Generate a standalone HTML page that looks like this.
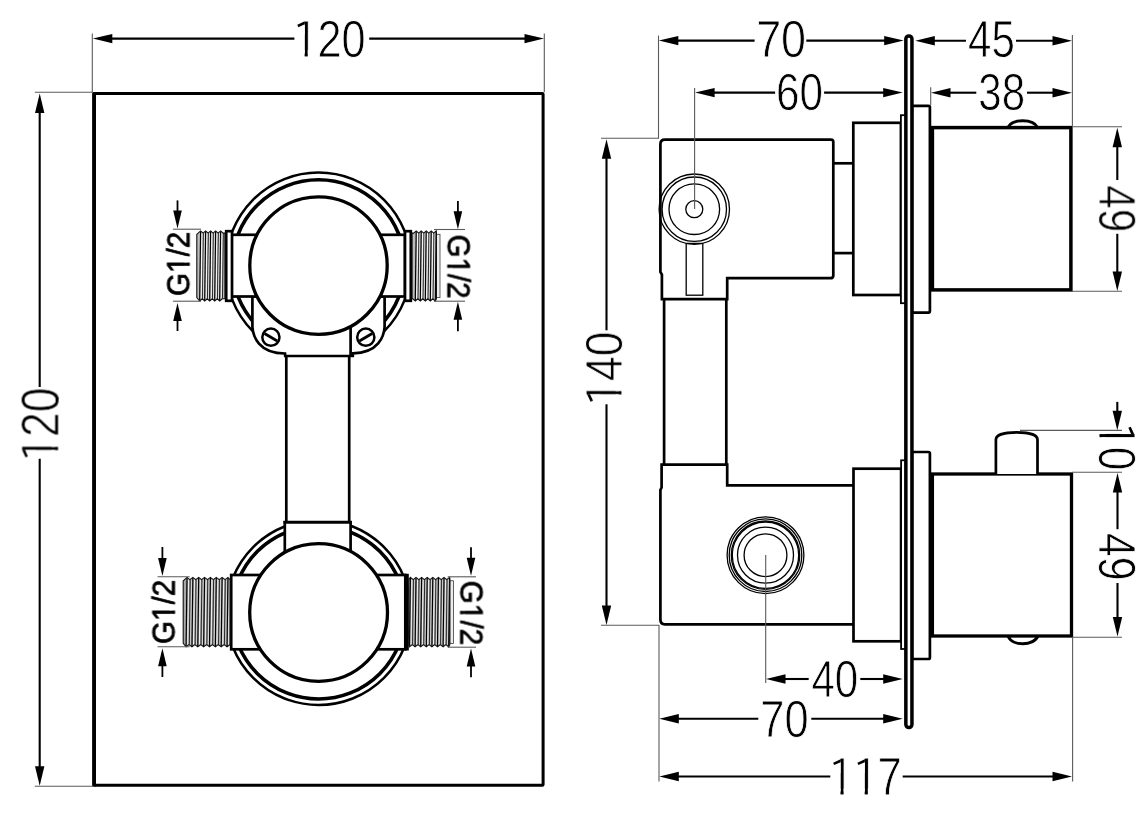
<!DOCTYPE html>
<html><head><meta charset="utf-8"><title>Dimension drawing</title>
<style>
html,body{margin:0;padding:0;background:#fff;}
svg{display:block}
text{font-family:"Liberation Sans",sans-serif;fill:#000;font-kerning:none;font-variant-ligatures:none}
.k{fill:none;stroke:#000;stroke-width:2.7;stroke-linejoin:miter}
.kw{fill:#fff;stroke:#000;stroke-width:2.7;stroke-linejoin:miter}
.k3{fill:none;stroke:#000;stroke-width:3.0}
.k38{fill:none;stroke:#000;stroke-width:3.8}
.m{fill:none;stroke:#000;stroke-width:1.3}
.mw{fill:#fff;stroke:#000;stroke-width:1.3}
.d{fill:none;stroke:#000;stroke-width:2.1}
.e{fill:none;stroke:#5a5a5a;stroke-width:1.1}
.k45{fill:none;stroke:#000;stroke-width:4.4}
.k35w{fill:#fff;stroke:#000;stroke-width:3.5}
.k2w{fill:#fff;stroke:#000;stroke-width:1.8}
.k25{fill:none;stroke:#000;stroke-width:2.5}
.k36{fill:none;stroke:#000;stroke-width:3.6}
.k33w{fill:#fff;stroke:#000;stroke-width:3.3}
.k28{fill:none;stroke:#000;stroke-width:2.8}
.m1{fill:none;stroke:#000;stroke-width:1.1}
.s{fill:none;stroke:#000;stroke-width:1.8}
.k2{fill:none;stroke:#000;stroke-width:2.2}
.k26{fill:none;stroke:#000;stroke-width:2.6}
.k3w{fill:#fff;stroke:#000;stroke-width:3}
.a{fill:#000;stroke:none}
.w{fill:#fff;stroke:none}
</style></head>
<body>
<svg width="1143" height="816" viewBox="0 0 1143 816">
<rect class="w" x="0" y="0" width="1143" height="816"/>
<g style="opacity:.999">
<g transform="translate(293.39 56.71) rotate(0) scale(0.4330 0.5217)">
<text font-size="100" stroke="#fff" stroke-width="1.6">120</text>
<rect class="w" x="6" y="-72" width="19.95" height="30"/>
<path class="a" d="M26.3 -68L9.09 -61.29L11.4 -56.69L26.3 -62.06Z"/>
<rect class="w" x="1" y="-13" width="24.95" height="18"/><rect class="w" x="33.18" y="-13" width="20.5" height="18"/>
</g>
<g transform="translate(58.61 461.62) rotate(-90) scale(0.4436 0.5376)">
<text font-size="100" stroke="#fff" stroke-width="1.6">120</text>
<rect class="w" x="6" y="-72" width="19.95" height="30"/>
<path class="a" d="M26.29 -68L9.49 -61.49L11.75 -57.02L26.29 -62.23Z"/>
<rect class="w" x="1" y="-13" width="24.95" height="18"/><rect class="w" x="33.18" y="-13" width="20.5" height="18"/>
</g>
<g transform="translate(188.91 296.14) rotate(-90) scale(0.2974 0.3151)">
<text font-size="100" stroke="#000" stroke-width="2.4">G1/2</text>
<rect class="w" x="78.78" y="-13" width="22.95" height="18"/><rect class="w" x="112.96" y="-13" width="20.5" height="18"/>
</g>
<g transform="translate(448.09 234.47) rotate(90) scale(0.2960 0.3151)">
<text font-size="100" stroke="#000" stroke-width="2.4">G1/2</text>
<rect class="w" x="78.78" y="-13" width="22.95" height="18"/><rect class="w" x="112.96" y="-13" width="20.5" height="18"/>
</g>
<g transform="translate(174.21 644.14) rotate(-90) scale(0.2974 0.3151)">
<text font-size="100" stroke="#000" stroke-width="2.4">G1/2</text>
<rect class="w" x="78.78" y="-13" width="22.95" height="18"/><rect class="w" x="112.96" y="-13" width="20.5" height="18"/>
</g>
<g transform="translate(460.89 580.56) rotate(90) scale(0.2979 0.3151)">
<text font-size="100" stroke="#000" stroke-width="2.4">G1/2</text>
<rect class="w" x="78.78" y="-13" width="22.95" height="18"/><rect class="w" x="112.96" y="-13" width="20.5" height="18"/>
</g>
<g transform="translate(756.14 57.11) rotate(0) scale(0.4493 0.5231)">
<text font-size="100" stroke="#fff" stroke-width="1.6">70</text>
</g>
<g transform="translate(968 57.41) rotate(0) scale(0.4208 0.5236)">
<text font-size="100" stroke="#fff" stroke-width="1.6">45</text>
</g>
<g transform="translate(776.12 109.91) rotate(0) scale(0.4223 0.5260)">
<text font-size="100" stroke="#fff" stroke-width="1.6">60</text>
</g>
<g transform="translate(978.36 110.41) rotate(0) scale(0.4208 0.5202)">
<text font-size="100" stroke="#fff" stroke-width="1.6">38</text>
</g>
<g transform="translate(1098.79 185.39) rotate(90) scale(0.4220 0.5202)">
<text font-size="100" stroke="#fff" stroke-width="1.6">49</text>
</g>
<g transform="translate(622.41 405.94) rotate(-90) scale(0.4456 0.5202)">
<text font-size="100" stroke="#fff" stroke-width="1.6">140</text>
<rect class="w" x="6" y="-72" width="19.95" height="30"/>
<path class="a" d="M26.29 -68L9.57 -61.27L11.81 -56.66L26.29 -62.04Z"/>
<rect class="w" x="1" y="-13" width="24.95" height="18"/><rect class="w" x="33.18" y="-13" width="20.5" height="18"/>
</g>
<g transform="translate(1098.69 423.09) rotate(90) scale(0.4235 0.5231)">
<text font-size="100" stroke="#fff" stroke-width="1.6">10</text>
<rect class="w" x="6" y="-72" width="19.95" height="30"/>
<path class="a" d="M26.3 -68L8.71 -61.31L11.07 -56.72L26.3 -62.07Z"/>
<rect class="w" x="1" y="-13" width="24.95" height="18"/><rect class="w" x="33.18" y="-13" width="20.5" height="18"/>
</g>
<g transform="translate(1098.79 532.98) rotate(90) scale(0.4279 0.5202)">
<text font-size="100" stroke="#fff" stroke-width="1.6">49</text>
</g>
<g transform="translate(811.4 696.91) rotate(0) scale(0.4215 0.5173)">
<text font-size="100" stroke="#fff" stroke-width="1.6">40</text>
</g>
<g transform="translate(760.33 736.91) rotate(0) scale(0.4344 0.5231)">
<text font-size="100" stroke="#fff" stroke-width="1.6">70</text>
</g>
<g transform="translate(829.16 795.43) rotate(0) scale(0.4356 0.5327)">
<text font-size="100" stroke="#fff" stroke-width="1.6">117</text>
<rect class="w" x="6" y="-72" width="19.95" height="30"/>
<path class="a" d="M26.29 -68L9.19 -61.43L11.49 -56.93L26.29 -62.18Z"/>
<rect class="w" x="1" y="-13" width="24.95" height="18"/><rect class="w" x="33.18" y="-13" width="20.5" height="18"/>
<rect class="w" x="61.62" y="-72" width="19.95" height="30"/>
<path class="a" d="M81.91 -68L64.81 -61.43L67.1 -56.93L81.91 -62.18Z"/>
<rect class="w" x="56.62" y="-13" width="24.95" height="18"/><rect class="w" x="88.8" y="-13" width="20.5" height="18"/>
</g>
</g>
<clipPath id="c1"><rect x="200" y="150" width="240" height="188"/></clipPath>
<ellipse class="k25" cx="318.5" cy="265.6" rx="92.7" ry="93.1" clip-path="url(#c1)"/>
<ellipse class="k36" cx="318.5" cy="265.6" rx="86.3" ry="85.8" clip-path="url(#c1)"/>
<ellipse class="k25" cx="318.6" cy="612.5" rx="92.5" ry="92.5"/>
<ellipse class="k36" cx="318.6" cy="612.5" rx="86.5" ry="86.5"/>
<rect class="w" x="286.3" y="356" width="62.9" height="166"/>
<rect class="w" x="284.8" y="522" width="65.8" height="48"/>
<path class="k" d="M286.3 356L286.3 522"/>
<path class="k" d="M349.2 356L349.2 522"/>
<path class="k" d="M284.8 521L284.8 560"/>
<path class="k" d="M350.6 521L350.6 560"/>
<path class="k3" d="M283.5 522.2L351.9 522.2"/>
<path class="kw" d="M252.4 296.5L252.4 327C253 336 258.4 353.2 285 353.5L285.2 356L352.8 356L353 353.3C378.6 353 384 336 384.6 327L384.6 296.5Z"/>
<path class="k" d="M350.6 326L350.6 356"/>
<rect class="kw" x="231.7" y="234.8" width="173.3" height="61.7"/>
<rect class="kw" x="226.2" y="231.2" width="5.8" height="69.6"/>
<rect class="kw" x="405" y="231.2" width="5.8" height="69.6"/>
<path d="M196.8 234.3L200.6 230.9L203.1 233.1L205.6 230.9L208.1 233.1L210.6 230.9L213.1 233.1L215.6 230.9L218.1 233.1L220.6 230.9L223.1 233.1L224.9 233.1L224.9 298.8L222.2 298.8L219.7 301L217.2 298.8L214.7 301L212.2 298.8L209.7 301L207.2 298.8L204.7 301L202.2 298.8L199.7 301L196.8 297.6Z" fill="#bdbdbd" stroke="none"/>
<path d="M201.95 233.1L201.05 298.8" stroke="#f6f6f6" stroke-width="1.25" fill="none"/>
<path d="M203.35 233.1L202.45 298.8" stroke="#222" stroke-width="0.95" fill="none"/>
<path d="M204.6 233.1L203.7 298.8" stroke="#e8e8e8" stroke-width="0.9375" fill="none"/>
<path d="M200.6 231.4L199.7 300.5" stroke="#000" stroke-width="1.2" fill="none"/>
<path d="M206.95 233.1L206.05 298.8" stroke="#f6f6f6" stroke-width="1.25" fill="none"/>
<path d="M208.35 233.1L207.45 298.8" stroke="#222" stroke-width="0.95" fill="none"/>
<path d="M209.6 233.1L208.7 298.8" stroke="#e8e8e8" stroke-width="0.9375" fill="none"/>
<path d="M205.6 231.4L204.7 300.5" stroke="#000" stroke-width="1.2" fill="none"/>
<path d="M211.95 233.1L211.05 298.8" stroke="#f6f6f6" stroke-width="1.25" fill="none"/>
<path d="M213.35 233.1L212.45 298.8" stroke="#222" stroke-width="0.95" fill="none"/>
<path d="M214.6 233.1L213.7 298.8" stroke="#e8e8e8" stroke-width="0.9375" fill="none"/>
<path d="M210.6 231.4L209.7 300.5" stroke="#000" stroke-width="1.2" fill="none"/>
<path d="M216.95 233.1L216.05 298.8" stroke="#f6f6f6" stroke-width="1.25" fill="none"/>
<path d="M218.35 233.1L217.45 298.8" stroke="#222" stroke-width="0.95" fill="none"/>
<path d="M219.6 233.1L218.7 298.8" stroke="#e8e8e8" stroke-width="0.9375" fill="none"/>
<path d="M215.6 231.4L214.7 300.5" stroke="#000" stroke-width="1.2" fill="none"/>
<path d="M221.95 233.1L221.05 298.8" stroke="#f6f6f6" stroke-width="1.25" fill="none"/>
<path d="M223.35 233.1L222.45 298.8" stroke="#222" stroke-width="0.95" fill="none"/>
<path d="M220.6 231.4L219.7 300.5" stroke="#000" stroke-width="1.2" fill="none"/>
<path d="M196.8 234.3L200.6 230.9L203.1 233.1L205.6 230.9L208.1 233.1L210.6 230.9L213.1 233.1L215.6 230.9L218.1 233.1L220.6 230.9L223.1 233.1L224.9 233.1L224.9 298.8L222.2 298.8L219.7 301L217.2 298.8L214.7 301L212.2 298.8L209.7 301L207.2 298.8L204.7 301L202.2 298.8L199.7 301L196.8 297.6Z" fill="none" stroke="#111" stroke-width="1.1" stroke-linejoin="miter"/>
<path d="M412.1 233.1L413.7 233.1L416.2 230.9L418.7 233.1L421.2 230.9L423.7 233.1L426.2 230.9L428.7 233.1L431.2 230.9L433.7 233.1L436.2 230.9L436.4 233.1L436.4 298.8L435.3 301L432.8 298.8L430.3 301L427.8 298.8L425.3 301L422.8 298.8L420.3 301L417.8 298.8L415.3 301L412.8 298.8L412.1 298.8Z" fill="#bdbdbd" stroke="none"/>
<rect x="436.4" y="234.3" width="3.6" height="63.3" fill="#ececec" stroke="#3a3a3a" stroke-width="0.8"/>
<path d="M417.55 233.1L416.65 298.8" stroke="#f6f6f6" stroke-width="1.25" fill="none"/>
<path d="M418.95 233.1L418.05 298.8" stroke="#222" stroke-width="0.95" fill="none"/>
<path d="M420.2 233.1L419.3 298.8" stroke="#e8e8e8" stroke-width="0.9375" fill="none"/>
<path d="M416.2 231.4L415.3 300.5" stroke="#000" stroke-width="1.2" fill="none"/>
<path d="M422.55 233.1L421.65 298.8" stroke="#f6f6f6" stroke-width="1.25" fill="none"/>
<path d="M423.95 233.1L423.05 298.8" stroke="#222" stroke-width="0.95" fill="none"/>
<path d="M425.2 233.1L424.3 298.8" stroke="#e8e8e8" stroke-width="0.9375" fill="none"/>
<path d="M421.2 231.4L420.3 300.5" stroke="#000" stroke-width="1.2" fill="none"/>
<path d="M427.55 233.1L426.65 298.8" stroke="#f6f6f6" stroke-width="1.25" fill="none"/>
<path d="M428.95 233.1L428.05 298.8" stroke="#222" stroke-width="0.95" fill="none"/>
<path d="M430.2 233.1L429.3 298.8" stroke="#e8e8e8" stroke-width="0.9375" fill="none"/>
<path d="M426.2 231.4L425.3 300.5" stroke="#000" stroke-width="1.2" fill="none"/>
<path d="M432.55 233.1L431.65 298.8" stroke="#f6f6f6" stroke-width="1.25" fill="none"/>
<path d="M433.95 233.1L433.05 298.8" stroke="#222" stroke-width="0.95" fill="none"/>
<path d="M435.2 233.1L434.3 298.8" stroke="#e8e8e8" stroke-width="0.9375" fill="none"/>
<path d="M431.2 231.4L430.3 300.5" stroke="#000" stroke-width="1.2" fill="none"/>
<path d="M436.2 231.4L435.3 300.5" stroke="#000" stroke-width="1.2" fill="none"/>
<path d="M412.1 233.1L413.7 233.1L416.2 230.9L418.7 233.1L421.2 230.9L423.7 233.1L426.2 230.9L428.7 233.1L431.2 230.9L433.7 233.1L436.2 230.9L436.4 233.1L436.4 298.8L435.3 301L432.8 298.8L430.3 301L427.8 298.8L425.3 301L422.8 298.8L420.3 301L417.8 298.8L415.3 301L412.8 298.8L412.1 298.8Z" fill="none" stroke="#111" stroke-width="1.1" stroke-linejoin="miter"/>
<ellipse class="k33w" cx="318.5" cy="265.6" rx="68.7" ry="68.8"/>
<circle class="k25" cx="270.9" cy="337.2" r="8.6"/>
<path class="k28" d="M264.54 333.43L277.26 340.97"/>
<circle class="k25" cx="365.8" cy="337.2" r="8.6"/>
<path class="k28" d="M359.44 340.97L372.16 333.43"/>
<rect class="kw" x="231.2" y="575" width="174.1" height="74.3"/>
<path class="k45" d="M406.6 573.8L406.6 650.5"/>
<path d="M183.2 580.8L187 577.4L189.92 579.6L192.85 577.4L195.77 579.6L198.7 577.4L201.62 579.6L204.55 577.4L207.47 579.6L210.4 577.4L213.32 579.6L216.25 577.4L219.17 579.6L222.1 577.4L225.02 579.6L227.95 577.4L230 579.6L230 644.6L227.05 646.8L224.12 644.6L221.2 646.8L218.27 644.6L215.35 646.8L212.42 644.6L209.5 646.8L206.57 644.6L203.65 646.8L200.72 644.6L197.8 646.8L194.87 644.6L191.95 646.8L189.02 644.6L186.1 646.8L183.2 643.4Z" fill="#a9a9a9" stroke="none"/>
<path d="M188.58 579.6L187.68 644.6" stroke="#f6f6f6" stroke-width="0.95" fill="none"/>
<path d="M190.22 579.6L189.32 644.6" stroke="#222" stroke-width="0.95" fill="none"/>
<path d="M191.68 579.6L190.78 644.6" stroke="#e8e8e8" stroke-width="0.7124999999999999" fill="none"/>
<path d="M187 577.9L186.1 646.3" stroke="#000" stroke-width="1.2" fill="none"/>
<path d="M194.43 579.6L193.53 644.6" stroke="#f6f6f6" stroke-width="0.95" fill="none"/>
<path d="M196.07 579.6L195.17 644.6" stroke="#222" stroke-width="0.95" fill="none"/>
<path d="M197.53 579.6L196.63 644.6" stroke="#e8e8e8" stroke-width="0.7124999999999999" fill="none"/>
<path d="M192.85 577.9L191.95 646.3" stroke="#000" stroke-width="1.2" fill="none"/>
<path d="M200.28 579.6L199.38 644.6" stroke="#f6f6f6" stroke-width="0.95" fill="none"/>
<path d="M201.92 579.6L201.02 644.6" stroke="#222" stroke-width="0.95" fill="none"/>
<path d="M203.38 579.6L202.48 644.6" stroke="#e8e8e8" stroke-width="0.7124999999999999" fill="none"/>
<path d="M198.7 577.9L197.8 646.3" stroke="#000" stroke-width="1.2" fill="none"/>
<path d="M206.13 579.6L205.23 644.6" stroke="#f6f6f6" stroke-width="0.95" fill="none"/>
<path d="M207.77 579.6L206.87 644.6" stroke="#222" stroke-width="0.95" fill="none"/>
<path d="M209.23 579.6L208.33 644.6" stroke="#e8e8e8" stroke-width="0.7124999999999999" fill="none"/>
<path d="M204.55 577.9L203.65 646.3" stroke="#000" stroke-width="1.2" fill="none"/>
<path d="M211.98 579.6L211.08 644.6" stroke="#f6f6f6" stroke-width="0.95" fill="none"/>
<path d="M213.62 579.6L212.72 644.6" stroke="#222" stroke-width="0.95" fill="none"/>
<path d="M215.08 579.6L214.18 644.6" stroke="#e8e8e8" stroke-width="0.7124999999999999" fill="none"/>
<path d="M210.4 577.9L209.5 646.3" stroke="#000" stroke-width="1.2" fill="none"/>
<path d="M217.83 579.6L216.93 644.6" stroke="#f6f6f6" stroke-width="0.95" fill="none"/>
<path d="M219.47 579.6L218.57 644.6" stroke="#222" stroke-width="0.95" fill="none"/>
<path d="M220.93 579.6L220.03 644.6" stroke="#e8e8e8" stroke-width="0.7124999999999999" fill="none"/>
<path d="M216.25 577.9L215.35 646.3" stroke="#000" stroke-width="1.2" fill="none"/>
<path d="M223.68 579.6L222.78 644.6" stroke="#f6f6f6" stroke-width="0.95" fill="none"/>
<path d="M225.32 579.6L224.42 644.6" stroke="#222" stroke-width="0.95" fill="none"/>
<path d="M226.78 579.6L225.88 644.6" stroke="#e8e8e8" stroke-width="0.7124999999999999" fill="none"/>
<path d="M222.1 577.9L221.2 646.3" stroke="#000" stroke-width="1.2" fill="none"/>
<path d="M229.53 579.6L228.63 644.6" stroke="#f6f6f6" stroke-width="0.95" fill="none"/>
<path d="M227.95 577.9L227.05 646.3" stroke="#000" stroke-width="1.2" fill="none"/>
<path d="M183.2 580.8L187 577.4L189.92 579.6L192.85 577.4L195.77 579.6L198.7 577.4L201.62 579.6L204.55 577.4L207.47 579.6L210.4 577.4L213.32 579.6L216.25 577.4L219.17 579.6L222.1 577.4L225.02 579.6L227.95 577.4L230 579.6L230 644.6L227.05 646.8L224.12 644.6L221.2 646.8L218.27 644.6L215.35 646.8L212.42 644.6L209.5 646.8L206.57 644.6L203.65 646.8L200.72 644.6L197.8 646.8L194.87 644.6L191.95 646.8L189.02 644.6L186.1 646.8L183.2 643.4Z" fill="none" stroke="#111" stroke-width="1.1" stroke-linejoin="miter"/>
<path d="M408.8 579.6L410.4 577.4L413.2 579.6L416 577.4L418.8 579.6L421.6 577.4L424.4 579.6L427.2 577.4L430 579.6L432.8 577.4L435.6 579.6L438.4 577.4L441.2 579.6L444 577.4L446.8 579.6L449.6 577.4L449.8 579.6L449.8 644.6L448.7 646.8L445.9 644.6L443.1 646.8L440.3 644.6L437.5 646.8L434.7 644.6L431.9 646.8L429.1 644.6L426.3 646.8L423.5 644.6L420.7 646.8L417.9 644.6L415.1 646.8L412.3 644.6L409.5 646.8L408.8 644.6Z" fill="#a9a9a9" stroke="none"/>
<rect x="449.8" y="580.8" width="3.6" height="62.6" fill="#ececec" stroke="#3a3a3a" stroke-width="0.8"/>
<path d="M411.91 579.6L411.01 644.6" stroke="#f6f6f6" stroke-width="0.95" fill="none"/>
<path d="M413.48 579.6L412.58 644.6" stroke="#222" stroke-width="0.95" fill="none"/>
<path d="M414.88 579.6L413.98 644.6" stroke="#e8e8e8" stroke-width="0.7124999999999999" fill="none"/>
<path d="M410.4 577.9L409.5 646.3" stroke="#000" stroke-width="1.2" fill="none"/>
<path d="M417.51 579.6L416.61 644.6" stroke="#f6f6f6" stroke-width="0.95" fill="none"/>
<path d="M419.08 579.6L418.18 644.6" stroke="#222" stroke-width="0.95" fill="none"/>
<path d="M420.48 579.6L419.58 644.6" stroke="#e8e8e8" stroke-width="0.7124999999999999" fill="none"/>
<path d="M416 577.9L415.1 646.3" stroke="#000" stroke-width="1.2" fill="none"/>
<path d="M423.11 579.6L422.21 644.6" stroke="#f6f6f6" stroke-width="0.95" fill="none"/>
<path d="M424.68 579.6L423.78 644.6" stroke="#222" stroke-width="0.95" fill="none"/>
<path d="M426.08 579.6L425.18 644.6" stroke="#e8e8e8" stroke-width="0.7124999999999999" fill="none"/>
<path d="M421.6 577.9L420.7 646.3" stroke="#000" stroke-width="1.2" fill="none"/>
<path d="M428.71 579.6L427.81 644.6" stroke="#f6f6f6" stroke-width="0.95" fill="none"/>
<path d="M430.28 579.6L429.38 644.6" stroke="#222" stroke-width="0.95" fill="none"/>
<path d="M431.68 579.6L430.78 644.6" stroke="#e8e8e8" stroke-width="0.7124999999999999" fill="none"/>
<path d="M427.2 577.9L426.3 646.3" stroke="#000" stroke-width="1.2" fill="none"/>
<path d="M434.31 579.6L433.41 644.6" stroke="#f6f6f6" stroke-width="0.95" fill="none"/>
<path d="M435.88 579.6L434.98 644.6" stroke="#222" stroke-width="0.95" fill="none"/>
<path d="M437.28 579.6L436.38 644.6" stroke="#e8e8e8" stroke-width="0.7124999999999999" fill="none"/>
<path d="M432.8 577.9L431.9 646.3" stroke="#000" stroke-width="1.2" fill="none"/>
<path d="M439.91 579.6L439.01 644.6" stroke="#f6f6f6" stroke-width="0.95" fill="none"/>
<path d="M441.48 579.6L440.58 644.6" stroke="#222" stroke-width="0.95" fill="none"/>
<path d="M442.88 579.6L441.98 644.6" stroke="#e8e8e8" stroke-width="0.7124999999999999" fill="none"/>
<path d="M438.4 577.9L437.5 646.3" stroke="#000" stroke-width="1.2" fill="none"/>
<path d="M445.51 579.6L444.61 644.6" stroke="#f6f6f6" stroke-width="0.95" fill="none"/>
<path d="M447.08 579.6L446.18 644.6" stroke="#222" stroke-width="0.95" fill="none"/>
<path d="M448.48 579.6L447.58 644.6" stroke="#e8e8e8" stroke-width="0.7124999999999999" fill="none"/>
<path d="M444 577.9L443.1 646.3" stroke="#000" stroke-width="1.2" fill="none"/>
<path d="M449.6 577.9L448.7 646.3" stroke="#000" stroke-width="1.2" fill="none"/>
<path d="M408.8 579.6L410.4 577.4L413.2 579.6L416 577.4L418.8 579.6L421.6 577.4L424.4 579.6L427.2 577.4L430 579.6L432.8 577.4L435.6 579.6L438.4 577.4L441.2 579.6L444 577.4L446.8 579.6L449.6 577.4L449.8 579.6L449.8 644.6L448.7 646.8L445.9 644.6L443.1 646.8L440.3 644.6L437.5 646.8L434.7 644.6L431.9 646.8L429.1 644.6L426.3 646.8L423.5 644.6L420.7 646.8L417.9 644.6L415.1 646.8L412.3 644.6L409.5 646.8L408.8 644.6Z" fill="none" stroke="#111" stroke-width="1.1" stroke-linejoin="miter"/>
<ellipse class="k33w" cx="318.6" cy="612.5" rx="68.9" ry="68.8"/>
<rect class="k3" x="94" y="93.5" width="449.1" height="691.7" rx="0.8"/>
<path class="k38" d="M94.1 92.2L94.1 786.5"/>
<path class="e" d="M92.3 33.6L92.3 92.3"/>
<path class="e" d="M544.3 33.6L544.3 92.3"/>
<path class="e" d="M34.8 92.3L92.3 92.3"/>
<path class="e" d="M34.8 786.3L93 786.3"/>
<path class="a" d="M92.8 38.6L112.3 33.9L112.3 43.3Z"/>
<path class="a" d="M544 38.6L524.5 43.3L524.5 33.9Z"/>
<path class="d" d="M110.3 38.6L294.4 38.6"/>
<path class="d" d="M369.2 38.6L526.5 38.6"/>
<path class="a" d="M39.7 93.6L44.4 113.1L35 113.1Z"/>
<path class="a" d="M39.7 785.7L35 766.2L44.4 766.2Z"/>
<path class="d" d="M39.7 111.1L39.7 387"/>
<path class="d" d="M39.7 458.7L39.7 768.2"/>
<path class="e" d="M172.9 229.2L201 229.2"/>
<path class="e" d="M172.9 301.2L201 301.2"/>
<path class="a" d="M177.5 228.4L173.2 210.4L181.8 210.4Z"/>
<path class="s" d="M177.5 200.4L177.5 212.4"/>
<path class="a" d="M177.5 303L181.8 321L173.2 321Z"/>
<path class="s" d="M177.5 331L177.5 319"/>
<path class="e" d="M434 229.5L465 229.5"/>
<path class="e" d="M434 301.2L465 301.2"/>
<path class="a" d="M457.9 229.2L453.6 211.2L462.2 211.2Z"/>
<path class="s" d="M457.9 201L457.9 213.2"/>
<path class="a" d="M457.9 301.8L462.2 319.8L453.6 319.8Z"/>
<path class="s" d="M457.9 331.2L457.9 317.8"/>
<path class="e" d="M157.5 576.8L189.6 576.8"/>
<path class="e" d="M157.5 646.7L189.6 646.7"/>
<path class="a" d="M162.4 575.9L158.1 557.9L166.7 557.9Z"/>
<path class="s" d="M162.4 547L162.4 559.9"/>
<path class="a" d="M162.4 648.2L166.7 666.2L158.1 666.2Z"/>
<path class="s" d="M162.4 677L162.4 664.2"/>
<path class="e" d="M447.7 576.8L476 576.8"/>
<path class="e" d="M447.7 647.2L476 647.2"/>
<path class="a" d="M471 575.8L466.7 557.8L475.3 557.8Z"/>
<path class="s" d="M471 547.3L471 559.8"/>
<path class="a" d="M471 648.6L475.3 666.6L466.7 666.6Z"/>
<path class="s" d="M471 677.3L471 664.6"/>
<path class="k" d="M831 139.6L665 139.6Q660.4 139.6 660.4 144.2L660.4 272L661.9 274.5L661.9 299.1L727.2 299.1L727.2 278.2L830.5 278.2Q833.3 278.2 833.3 275.4L833.3 142Q833.3 139.6 831 139.6Z"/>
<path class="k" d="M664.1 299.1L664.1 464.7"/>
<path class="k" d="M726.3 299.1L726.3 464.7"/>
<path class="k" d="M853.7 485.3L727.2 485.3L727.2 464.7L661.6 464.7L661.6 487.5L660.4 490L660.4 619.8Q660.4 624.3 665 624.3L853.7 624.3"/>
<path class="k" d="M833.3 163.3L853.3 163.3"/>
<path class="k" d="M833.3 253.1L853.3 253.1"/>
<rect class="kw" x="853.3" y="122.8" width="47.6" height="172.2"/>
<rect class="kw" x="853.5" y="468.7" width="47.6" height="172.6"/>
<rect class="k2w" x="900.9" y="115.2" width="5.1" height="188"/>
<rect class="k2w" x="901.1" y="460.3" width="4.9" height="188.7"/>
<rect class="kw" x="912" y="105.8" width="17.9" height="206.8" rx="1.5"/>
<rect class="kw" x="912" y="452" width="17.9" height="207" rx="1.5"/>
<rect class="k35w" x="905.85" y="35.9" width="6.1" height="691.7" rx="3"/>
<rect class="k35w" x="932.4" y="127.6" width="138.5" height="162.3"/>
<rect class="k33w" x="932.4" y="474" width="139.1" height="162"/>
<path class="k3" d="M1007.9 127.4C1012 118.5 1033.3 118.5 1037.5 127.4"/>
<path class="k3" d="M1008.2 636.2C1012 646.2 1033.6 646.2 1037.8 636.2"/>
<path class="kw" d="M995.9 474L995.9 439.5C996 434.6 1005 432.4 1016.7 432.4C1028.4 432.4 1037.4 434.6 1037.5 439.5L1037.5 474"/>
<circle class="m" cx="694.3" cy="209.2" r="35.2"/>
<circle class="m" cx="694.3" cy="209.2" r="32.2"/>
<circle class="m" cx="694.3" cy="209.2" r="25.3"/>
<circle class="m" cx="694.3" cy="209.2" r="8.5"/>
<rect class="m" x="686.2" y="243.4" width="16.6" height="51.8"/>
<circle class="m" cx="765.5" cy="555.2" r="38.4"/>
<circle class="m" cx="765.5" cy="555.2" r="36.3"/>
<circle class="m" cx="765.5" cy="555.2" r="34.2"/>
<circle class="m" cx="765.5" cy="555.2" r="33.2"/>
<circle class="m" cx="765.5" cy="555.2" r="28"/>
<circle class="m" cx="765.5" cy="555.2" r="21.4"/>
<path class="e" d="M658.5 35.5L658.5 138.5"/>
<path class="e" d="M659 625L659 781.5"/>
<path class="e" d="M1072.4 35L1072.4 126.7"/>
<path class="e" d="M1072.6 637.3L1072.6 781.5"/>
<path class="e" d="M694.6 87.9L694.6 209"/>
<path class="e" d="M930.7 87.3L930.7 105"/>
<path class="e" d="M765.7 555L765.7 683"/>
<path class="e" d="M601 138.2L659 138.2"/>
<path class="e" d="M601 625.2L659 625.2"/>
<path class="e" d="M1072 126.7L1122 126.7"/>
<path class="e" d="M1072 291.3L1122 291.3"/>
<path class="e" d="M1020 430.4L1122 430.4"/>
<path class="e" d="M1072 472.3L1122 472.3"/>
<path class="e" d="M1072 637.2L1122 637.2"/>
<path class="a" d="M658.8 40.6L678.3 35.9L678.3 45.3Z"/>
<path class="a" d="M903.7 40.6L884.2 45.3L884.2 35.9Z"/>
<path class="d" d="M676.3 40.6L754.6 40.6"/>
<path class="d" d="M806.3 40.6L886.2 40.6"/>
<path class="a" d="M915.3 40.7L934.8 36L934.8 45.4Z"/>
<path class="a" d="M1072 40.7L1052.5 45.4L1052.5 36Z"/>
<path class="d" d="M932.8 40.7L966 40.7"/>
<path class="d" d="M1016 40.7L1054.5 40.7"/>
<path class="a" d="M695.1 92.6L714.6 87.9L714.6 97.3Z"/>
<path class="a" d="M902.7 92.6L883.2 97.3L883.2 87.9Z"/>
<path class="d" d="M712.6 92.6L775.1 92.6"/>
<path class="d" d="M824.1 92.6L885.2 92.6"/>
<path class="a" d="M931 92.7L950.5 88L950.5 97.4Z"/>
<path class="a" d="M1072 92.7L1052.5 97.4L1052.5 88Z"/>
<path class="d" d="M948.5 92.7L976.3 92.7"/>
<path class="d" d="M1027 92.7L1054.5 92.7"/>
<path class="a" d="M1117.3 127.7L1122 147.2L1112.6 147.2Z"/>
<path class="a" d="M1117.3 291L1112.6 271.5L1122 271.5Z"/>
<path class="d" d="M1117.3 145.2L1117.3 180"/>
<path class="d" d="M1117.3 233.8L1117.3 273.5"/>
<path class="a" d="M606.5 139.3L611.2 158.8L601.8 158.8Z"/>
<path class="a" d="M606.5 625L601.8 605.5L611.2 605.5Z"/>
<path class="d" d="M606.5 156.8L606.5 330.3"/>
<path class="d" d="M606.5 404.3L606.5 607.5"/>
<path class="a" d="M1117.3 430.2L1112.6 410.7L1122 410.7Z"/>
<path class="d" d="M1117.3 401.9L1117.3 413"/>
<path class="a" d="M1117.5 473L1122.2 492.5L1112.8 492.5Z"/>
<path class="a" d="M1117.5 636.6L1112.8 617.1L1122.2 617.1Z"/>
<path class="d" d="M1117.5 490.5L1117.5 529.2"/>
<path class="d" d="M1117.5 583L1117.5 619.1"/>
<path class="a" d="M766 679L785.5 674.3L785.5 683.7Z"/>
<path class="a" d="M902.7 679L883.2 683.7L883.2 674.3Z"/>
<path class="d" d="M783.5 679L808.7 679"/>
<path class="d" d="M860.3 679L885.2 679"/>
<path class="a" d="M659.3 718.7L678.8 714L678.8 723.4Z"/>
<path class="a" d="M902.7 718.7L883.2 723.4L883.2 714Z"/>
<path class="d" d="M676.8 718.7L758.3 718.7"/>
<path class="d" d="M811.3 718.7L885.2 718.7"/>
<path class="a" d="M659.3 776.5L678.8 771.8L678.8 781.2Z"/>
<path class="a" d="M1072 776.5L1052.5 781.2L1052.5 771.8Z"/>
<path class="d" d="M676.8 776.5L830.3 776.5"/>
<path class="d" d="M902.7 776.5L1054.5 776.5"/>
</svg>
</body></html>
